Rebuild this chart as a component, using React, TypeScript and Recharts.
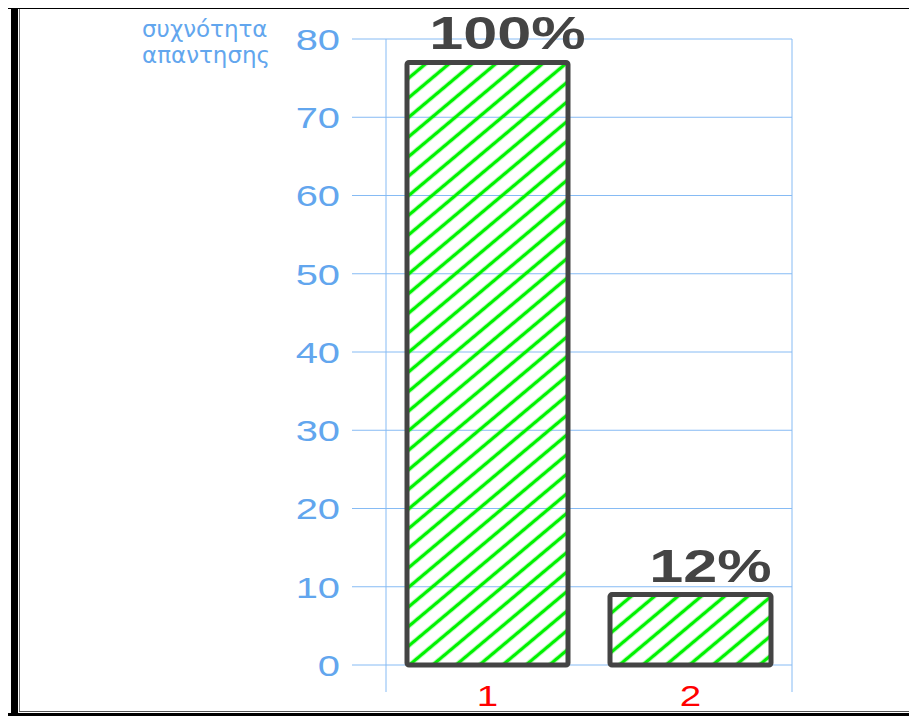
import React from 'react'
import { BarChart, Bar, XAxis, YAxis, CartesianGrid, LabelList } from 'recharts'

const categories = ['1', '2']
const frequencies = [77, 9]
const percentLabels = ['100%', '12%']
const yTicks = [0, 10, 20, 30, 40, 50, 60, 70, 80]
const boundaryTicks = [0, 1, 2]

const data = categories.map((name, i) => ({ name, value: frequencies[i], pct: percentLabels[i] }))

const BLUE = '#62a6ee'
const GRID = '#86bbf4'
const STRETCH = 1.33

function YTick({ x, y, payload }: any) {
  return (
    <g transform={`translate(${x},${y})`}>
      <text transform={`scale(${STRETCH},1)`} textAnchor="end" dy="0.36em" fill={BLUE} fontSize={30} fontFamily="Liberation Sans, Arial, sans-serif">
        {payload.value}
      </text>
    </g>
  )
}

function XTick({ x, y, payload }: any) {
  return (
    <g transform={`translate(${x},${y})`}>
      <text transform={`scale(${STRETCH},1)`} textAnchor="middle" dy="0.72em" fill="#ff0000" fontSize={29} fontFamily="Liberation Sans, Arial, sans-serif">
        {payload.value}
      </text>
    </g>
  )
}

const NoTick = () => <g />

function PctLabel({ x, y, width, index }: any) {
  return (
    <g transform={`translate(${x + width / 2 + 20},${y - 13})`}>
      <text transform={`scale(${STRETCH},1)`} textAnchor="middle" fill="#444" fontSize={46} fontWeight="bold" fontFamily="Liberation Sans, Arial, sans-serif">
        {data[index].pct}
      </text>
    </g>
  )
}

const line = (left: number, top: number, width: number, height: number, color: string) => (
  <div style={{ position: 'absolute', left: left - 8, top: top - 8, width, height, background: color }} />
)

export default function App() {
  return (
    <div style={{ position: 'relative', width: 909, height: 710, overflow: 'hidden' }}>
      <div style={{ position: 'absolute', left: -8, top: -8 }}>
        <BarChart width={917} height={718} data={data} margin={{ top: 39, right: 125, bottom: 0, left: 0 }}>
          <defs>
            <pattern id="hatch" patternUnits="userSpaceOnUse" width={10} height={15} patternTransform="rotate(-40)">
              <line x1={0} y1={7.5} x2={10} y2={7.5} stroke="#00f200" strokeWidth={3.5} />
            </pattern>
          </defs>
          <CartesianGrid xAxisId="a" stroke={GRID} strokeWidth={1} />
          <XAxis
            xAxisId="a"
            type="number"
            domain={[0, 2]}
            ticks={boundaryTicks}
            allowDataOverflow
            height={20}
            axisLine={false}
            tick={<NoTick />}
            tickSize={27}
            tickLine={{ stroke: GRID }}
          />
          <XAxis
            xAxisId="b"
            dataKey="name"
            height={33}
            axisLine={false}
            tickLine={false}
            tickSize={0}
            tickMargin={0}
            tick={<XTick />}
          />
          <YAxis
            width={386}
            domain={[0, 80]}
            ticks={yTicks}
            axisLine={false}
            tickSize={34}
            tickMargin={12}
            tickLine={{ stroke: GRID }}
            tick={<YTick />}
          />
          <Bar
            xAxisId="b"
            dataKey="value"
            fill="url(#hatch)"
            stroke="#444"
            strokeWidth={5}
            radius={2}
            barSize={161}
            isAnimationActive={false}
          >
            <LabelList dataKey="pct" content={<PctLabel />} />
          </Bar>
        </BarChart>
      </div>
      <div
        style={{
          position: 'absolute',
          left: 142 - 8,
          top: 16 - 8,
          fontFamily: 'DejaVu Sans, sans-serif',
          fontSize: 23,
          lineHeight: '26px',
          color: BLUE,
          whiteSpace: 'nowrap',
        }}
      >
        <div>συχνότητα</div>
        <div>απαντησης</div>
      </div>
      {line(7, 7, 910, 2, '#000')}
      {line(7, 7, 1, 708, '#000')}
      {line(11, 7, 7, 709, '#000')}
      {line(19, 9, 1, 703, '#777')}
      {line(19, 711, 898, 1, '#555')}
      {line(7, 713, 910, 3, '#000')}
    </div>
  )
}
